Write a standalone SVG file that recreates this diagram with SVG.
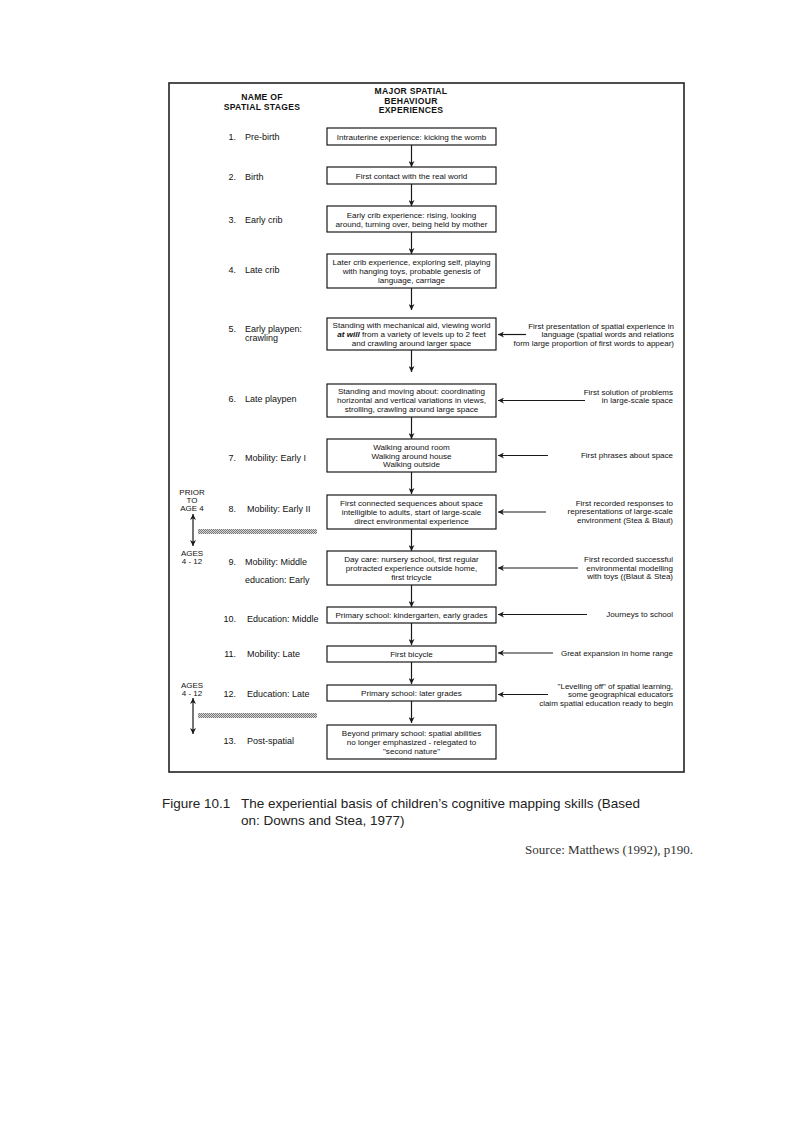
<svg xmlns="http://www.w3.org/2000/svg" width="793" height="1123" viewBox="0 0 793 1123">
<style>
.frame{fill:none;stroke:#222;stroke-width:1.6}
.box{fill:#fff;stroke:#1a1a1a;stroke-width:1.2}
.bt{font-family:"Liberation Sans",Arial,sans-serif;font-size:8.1px;fill:#111;text-anchor:middle}
.rt{font-family:"Liberation Sans",Arial,sans-serif;font-size:8px;fill:#111;text-anchor:end}
.st{font-family:"Liberation Sans",Arial,sans-serif;font-size:9px;fill:#111}
.sn{font-family:"Liberation Sans",Arial,sans-serif;font-size:9px;fill:#111;text-anchor:end}
.hd{font-family:"Liberation Sans",Arial,sans-serif;font-size:8.6px;font-weight:bold;fill:#111;text-anchor:middle;letter-spacing:0.3px}
.ag{font-family:"Liberation Sans",Arial,sans-serif;font-size:8px;fill:#111;text-anchor:middle}
.cap{font-family:"Liberation Sans",Arial,sans-serif;font-size:13.5px;fill:#222}
.src{font-family:"Liberation Serif","Times New Roman",serif;font-size:13px;fill:#333;text-anchor:end}
.ln{fill:none;stroke:#1a1a1a;stroke-width:1.2}
.bar{fill:url(#hatch)}
</style>
<defs>
<marker id="ah" viewBox="0 0 10 10" refX="10" refY="5" markerWidth="6" markerHeight="6" markerUnits="userSpaceOnUse" orient="auto">
<path d="M0,0 L10,5 L0,10 L3,5 Z" fill="#1a1a1a"/>
</marker>
<marker id="ahs" viewBox="0 0 10 10" refX="0" refY="5" markerWidth="6" markerHeight="6" markerUnits="userSpaceOnUse" orient="auto">
<path d="M10,0 L0,5 L10,10 L7,5 Z" fill="#1a1a1a"/>
</marker>
<pattern id="hatch" width="2" height="2" patternUnits="userSpaceOnUse">
<rect width="2" height="2" fill="#d8d8d8"/>
<rect width="1" height="1" fill="#777"/>
<rect x="1" y="1" width="1" height="1" fill="#777"/>
</pattern>
</defs>
<rect width="793" height="1123" fill="#fff"/>
<rect class="frame" x="169" y="83" width="515" height="689"/>

<g id="headers">
<text class="hd" x="262" y="99.5">NAME OF</text>
<text class="hd" x="262" y="109.5">SPATIAL STAGES</text>
<text class="hd" x="411" y="94">MAJOR SPATIAL</text>
<text class="hd" x="411" y="103.5">BEHAVIOUR</text>
<text class="hd" x="411" y="113">EXPERIENCES</text>
</g>

<g id="stages">
<text class="sn" x="236" y="140">1.</text><text class="st" x="245" y="140">Pre-birth</text>
<text class="sn" x="236" y="180">2.</text><text class="st" x="245" y="180">Birth</text>
<text class="sn" x="236" y="223">3.</text><text class="st" x="245" y="223">Early crib</text>
<text class="sn" x="236" y="273">4.</text><text class="st" x="245" y="273">Late crib</text>
<text class="sn" x="236" y="332">5.</text><text class="st" x="245" y="332">Early playpen:</text><text class="st" x="245" y="341">crawling</text>
<text class="sn" x="236" y="402">6.</text><text class="st" x="245" y="402">Late playpen</text>
<text class="sn" x="236" y="461">7.</text><text class="st" x="245" y="461">Mobility: Early I</text>
<text class="sn" x="236" y="512">8.</text><text class="st" x="247" y="512">Mobility: Early II</text>
<text class="sn" x="236" y="565">9.</text><text class="st" x="245" y="565">Mobility: Middle</text><text class="st" x="245" y="583">education: Early</text>
<text class="sn" x="236" y="622">10.</text><text class="st" x="247" y="622">Education: Middle</text>
<text class="sn" x="236" y="657">11.</text><text class="st" x="247" y="657">Mobility: Late</text>
<text class="sn" x="236" y="697">12.</text><text class="st" x="247" y="697">Education: Late</text>
<text class="sn" x="236" y="744">13.</text><text class="st" x="247" y="744">Post-spatial</text>
</g>

<g id="ages">
<text class="ag" x="192" y="495">PRIOR</text>
<text class="ag" x="192" y="503">TO</text>
<text class="ag" x="192" y="511">AGE 4</text>
<text class="ag" x="192" y="556">AGES</text>
<text class="ag" x="192" y="564">4 - 12</text>
<text class="ag" x="192" y="688">AGES</text>
<text class="ag" x="192" y="695.5">4 - 12</text>
<rect class="bar" x="198" y="529" width="119" height="5"/>
<rect class="bar" x="198" y="713" width="119" height="5"/>
</g>

<g id="n1"><rect class="box" x="327" y="128" width="169" height="17"/><text class="bt" x="411.5" y="139.5">Intrauterine experience: kicking the womb</text></g>
<g id="n2"><rect class="box" x="327" y="167" width="169" height="17"/><text class="bt" x="411.5" y="178.5">First contact with the real world</text></g>
<g id="n3"><rect class="box" x="327" y="206" width="169" height="26"/><text class="bt" x="411.5" y="217.5">Early crib experience: rising, looking</text><text class="bt" x="411.5" y="226.5">around, turning over, being held by mother</text></g>
<g id="n4"><rect class="box" x="327" y="254" width="169" height="34"/><text class="bt" x="411.5" y="264.5">Later crib experience, exploring self, playing</text><text class="bt" x="411.5" y="273.5">with hanging toys, probable genesis of</text><text class="bt" x="411.5" y="282.5">language, carriage</text></g>
<g id="n5"><rect class="box" x="327" y="318" width="169" height="32"/><text class="bt" x="411.5" y="327.5">Standing with mechanical aid, viewing world</text><text class="bt" x="411.5" y="336.5"><tspan font-style="italic" font-weight="bold">at will</tspan> from a variety of levels up to 2 feet</text><text class="bt" x="411.5" y="345.5">and crawling around larger space</text></g>
<g id="n6"><rect class="box" x="327" y="384" width="169" height="33"/><text class="bt" x="411.5" y="394">Standing and moving about: coordinating</text><text class="bt" x="411.5" y="403">horizontal and vertical variations in views,</text><text class="bt" x="411.5" y="412">strolling, crawling around large space</text></g>
<g id="n7"><rect class="box" x="327" y="439" width="169" height="33"/><text class="bt" x="411.5" y="449.5">Walking around room</text><text class="bt" x="411.5" y="458.5">Walking around house</text><text class="bt" x="411.5" y="467">Walking outside</text></g>
<g id="n8"><rect class="box" x="327" y="495" width="169" height="34"/><text class="bt" x="411.5" y="505.5">First connected sequences about space</text><text class="bt" x="411.5" y="514.5">intelligible to adults, start of large-scale</text><text class="bt" x="411.5" y="523.5">direct environmental experience</text></g>
<g id="n9"><rect class="box" x="327" y="551" width="169" height="34"/><text class="bt" x="411.5" y="561.5">Day care: nursery school, first regular</text><text class="bt" x="411.5" y="570.5">protracted experience outside home,</text><text class="bt" x="411.5" y="579.5">first tricycle</text></g>
<g id="n10"><rect class="box" x="327" y="607" width="169" height="16"/><text class="bt" x="411.5" y="617.8">Primary school: kindergarten, early grades</text></g>
<g id="n11"><rect class="box" x="327" y="646" width="169" height="16"/><text class="bt" x="411.5" y="656.8">First bicycle</text></g>
<g id="n12"><rect class="box" x="327" y="685" width="169" height="16"/><text class="bt" x="411.5" y="695.8">Primary school: later grades</text></g>
<g id="n13"><rect class="box" x="327" y="725" width="169" height="34"/><text class="bt" x="411.5" y="735.5">Beyond primary school: spatial abilities</text><text class="bt" x="411.5" y="744.5">no longer emphasized - relegated to</text><text class="bt" x="411.5" y="753.5">"second nature"</text></g>

<g id="notes">
<text class="rt" x="674" y="328.5">First presentation of spatial experience in</text>
<text class="rt" x="674" y="337">language (spatial words and relations</text>
<text class="rt" x="674" y="345.5">form large proportion of first words to appear)</text>
<text class="rt" x="673" y="394.5">First solution of problems</text>
<text class="rt" x="673" y="403">in large-scale space</text>
<text class="rt" x="673" y="458">First phrases about space</text>
<text class="rt" x="673" y="505.5">First recorded responses to</text>
<text class="rt" x="673" y="514">representations of large-scale</text>
<text class="rt" x="673" y="522.5">environment (Stea &amp; Blaut)</text>
<text class="rt" x="673" y="562">First recorded successful</text>
<text class="rt" x="673" y="570.5">environmental modelling</text>
<text class="rt" x="673" y="579">with toys ((Blaut &amp; Stea)</text>
<text class="rt" x="673" y="617">Journeys to school</text>
<text class="rt" x="673" y="655.5">Great expansion in home range</text>
<text class="rt" x="673" y="688.5">"Levelling off" of spatial learning,</text>
<text class="rt" x="673" y="697">some geographical educators</text>
<text class="rt" x="673" y="705.5">claim spatial education ready to begin</text>
</g>

<g id="connectors">
<line class="ln" x1="411.5" y1="145" x2="411.5" y2="167" marker-end="url(#ah)"/>
<line class="ln" x1="411.5" y1="184" x2="411.5" y2="206" marker-end="url(#ah)"/>
<line class="ln" x1="411.5" y1="232" x2="411.5" y2="254" marker-end="url(#ah)"/>
<line class="ln" x1="411.5" y1="288" x2="411.5" y2="310" marker-end="url(#ah)"/>
<line class="ln" x1="411.5" y1="350" x2="411.5" y2="372" marker-end="url(#ah)"/>
<line class="ln" x1="411.5" y1="417" x2="411.5" y2="439" marker-end="url(#ah)"/>
<line class="ln" x1="411.5" y1="472" x2="411.5" y2="494" marker-end="url(#ah)"/>
<line class="ln" x1="411.5" y1="529" x2="411.5" y2="551" marker-end="url(#ah)"/>
<line class="ln" x1="411.5" y1="585" x2="411.5" y2="607" marker-end="url(#ah)"/>
<line class="ln" x1="411.5" y1="623" x2="411.5" y2="645" marker-end="url(#ah)"/>
<line class="ln" x1="411.5" y1="662" x2="411.5" y2="684" marker-end="url(#ah)"/>
<line class="ln" x1="411.5" y1="701" x2="411.5" y2="723" marker-end="url(#ah)"/>
<line class="ln" x1="526" y1="334.5" x2="498" y2="334.5" marker-end="url(#ah)"/>
<line class="ln" x1="585" y1="400.5" x2="498" y2="400.5" marker-end="url(#ah)"/>
<line class="ln" x1="548" y1="455.5" x2="498" y2="455.5" marker-end="url(#ah)"/>
<line class="ln" x1="546" y1="512" x2="498" y2="512" marker-end="url(#ah)"/>
<line class="ln" x1="578" y1="568" x2="498" y2="568" marker-end="url(#ah)"/>
<line class="ln" x1="587" y1="614.5" x2="498" y2="614.5" marker-end="url(#ah)"/>
<line class="ln" x1="553" y1="653" x2="498" y2="653" marker-end="url(#ah)"/>
<line class="ln" x1="548" y1="694.5" x2="498" y2="694.5" marker-end="url(#ah)"/>
<line class="ln" x1="193" y1="514" x2="193" y2="546" marker-start="url(#ahs)" marker-end="url(#ah)"/>
<line class="ln" x1="193" y1="698" x2="193" y2="734" marker-start="url(#ahs)" marker-end="url(#ah)"/>
</g>

<g id="caption">
<text class="cap" x="162" y="808">Figure 10.1</text>
<text class="cap" x="241" y="808">The experiential basis of children’s cognitive mapping skills (Based</text>
<text class="cap" x="241" y="825">on: Downs and Stea, 1977)</text>
<text class="src" x="693" y="854">Source: Matthews (1992), p190.</text>
</g>
</svg>
